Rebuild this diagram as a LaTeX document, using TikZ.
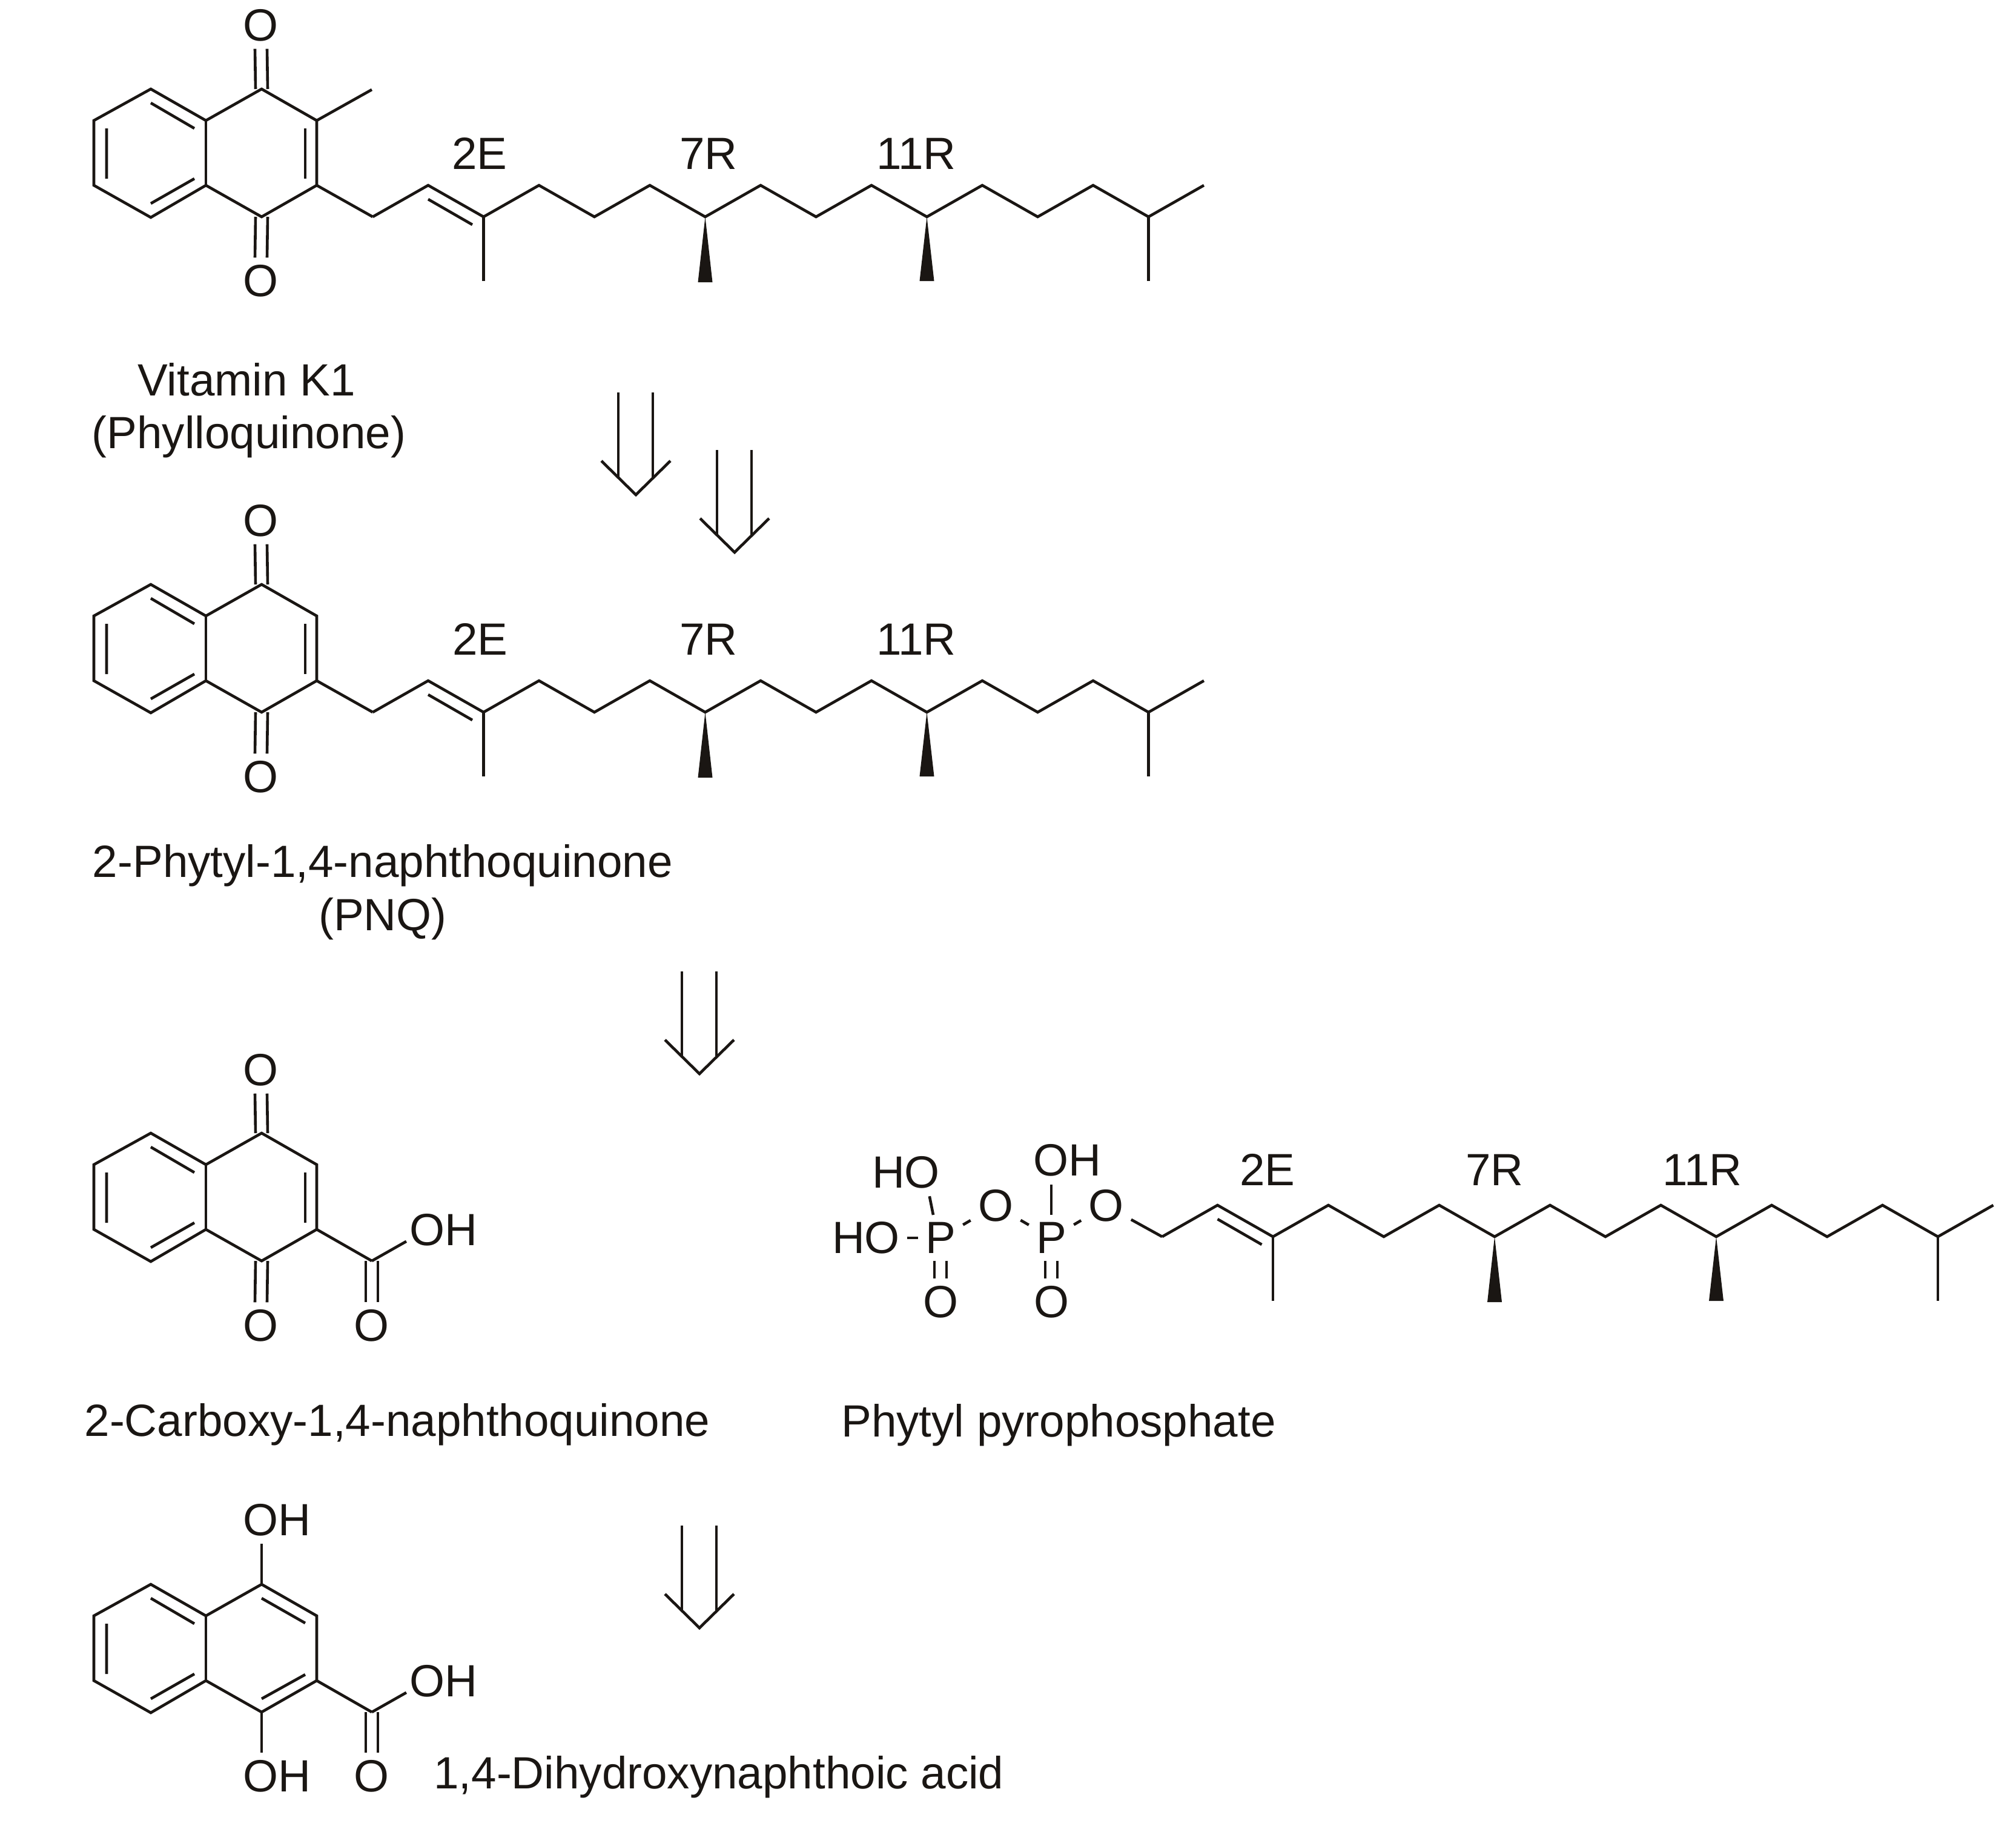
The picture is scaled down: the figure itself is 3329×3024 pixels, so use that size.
\documentclass[tikz,border=0pt]{standalone}
\usepackage{fontspec}
\setmainfont{Liberation Sans}
\usepackage{tikz}
\definecolor{ink}{HTML}{1A1613}
\tikzset{
	atom/.style={font=\fontsize{37.3}{44}\selectfont,inner sep=5pt},
	caption/.style={font=\fontsize{37.3}{44}\selectfont,inner sep=0pt,anchor=base,align=center},
}
\newcommand{\naphring}{
	\coordinate (c1) at (155,199); \coordinate (c2) at (249,147); \coordinate (c3) at (340,199);
	\coordinate (c4) at (432,147); \coordinate (c5) at (523,199); \coordinate (c6) at (523,306);
	\coordinate (c7) at (432,358); \coordinate (c8) at (340,306); \coordinate (c9) at (249,359);
	\coordinate (c10) at (155,306);
	\draw (c1) -- (c2) -- (c3) -- (c4) -- (c5) -- (c6) -- (c7) -- (c8) -- (c9) -- (c10) -- cycle;
	\draw (c3) -- (c8);
	\draw (176,212) -- (176,295) (249,170) -- (321,212) (249,336) -- (321,295);
}
\newcommand{\phytylchain}{
	\coordinate (ch1) at (615.5,358);
	\draw (ch1) -- (707,306) -- (798.5,358) -- (890,306) -- (981.5,358) -- (1073,306) -- (1164.5,358) -- (1256,306) -- (1347.5,358) -- (1439,306) -- (1530.5,358) -- (1622,306) -- (1713.5,358) -- (1805,306) -- (1896.5,358) -- (1988,306);
	\draw (707,329) -- (780,371);
	\draw (798.5,358) -- (798.5,464);
	\draw (1896.5,358) -- (1896.5,464);
	\fill (1164.5,358) -- (1152.5,466) -- (1176.5,466) -- cycle;
	\fill (1530.5,358) -- (1518.5,464) -- (1542.5,464) -- cycle;
}
\newcommand{\dblbond}[2]{
	\draw ([xshift=-5pt]#1) -- ([xshift=-5pt]#2) ([xshift=5pt]#1) -- ([xshift=5pt]#2);
}
\newcommand{\retroarrow}[2]{
	\draw ({#1-29},{#2-169}) -- ({#1-29},{#2-27}) ({#1+28},{#2-169}) -- ({#1+28},{#2-27});
	\draw ({#1-57},{#2-56}) -- (#1,#2) -- ({#1+57},{#2-56});
}

\begin{document}
\begin{tikzpicture}[x=0.5pt,y=-0.5pt,line width=2.3pt,ink]
	\useasboundingbox (0,0) rectangle (3329,3024);

	% vitamin K1
	\naphring
	\phytylchain
	\node[atom] (Otop) at (431,42) {O};
	\node[atom] (Obot) at (431,464) {O};
	\dblbond{c4}{Otop.south}
	\dblbond{c7}{Obot.north}
	\draw (504,212) -- (504,295);
	\draw (c5) -- (614,148);
	\draw (c6) -- (ch1);
	\node[caption] (labelEa) at (792,279) {2E};
	\node[caption] (labelRa) at (1170,279) {7R};
	\node[caption] (labelSa) at (1513,279) {11R};
	\node[caption] (nameK) at (407,653) {Vitamin K1};
	\node[caption] (namePhyllo) at (411,740) {(Phylloquinone)};

	\retroarrow{1050}{817}
	\retroarrow{1213}{912}

	% PNQ
	\begin{scope}[shift={(0,818)}]
		\naphring
		\phytylchain
		\node[atom] (Otop) at (431,42) {O};
		\node[atom] (Obot) at (431,465) {O};
		\dblbond{c4}{Otop.south}
		\dblbond{c7}{Obot.north}
		\draw (504,212) -- (504,295);
		\draw (c6) -- (ch1);
	\end{scope}
	\node[caption] (labelEb) at (793,1081) {2E};
	\node[caption] (labelRb) at (1170,1081) {7R};
	\node[caption] (labelSb) at (1513,1081) {11R};
	\node[caption] (namePNQ) at (632,1448) {2-Phytyl-1,4-naphthoquinone};
	\node[caption] (namePNQb) at (632,1536) {(PNQ)};

	\retroarrow{1155}{1773}

	% carboxy naphthoquinone
	\begin{scope}[shift={(0,1724)}]
		\naphring
		\node[atom] (Otop) at (431,43) {O};
		\node[atom] (Obot) at (431,465) {O};
		\node[atom] (Oacid) at (614,465) {O};
		\node[atom] (OHacid) at (732,307) {OH};
		\coordinate (cx) at (614,358);
		\coordinate (OHo) at (704,307);
		\dblbond{c4}{Otop.south}
		\dblbond{c7}{Obot.north}
		\dblbond{cx}{Oacid.north}
		\draw (504,212) -- (504,295);
		\draw (c6) -- (cx);
		\draw[shorten >=19pt] (cx) -- (OHo);
	\end{scope}
	\node[caption] (nameCarboxy) at (656,2371) {2-Carboxy-1,4-naphthoquinone};

	% phytyl pyrophosphate
	\begin{scope}[shift={(1303.5,1684)}]
		\phytylchain
	\end{scope}
	\node[atom] (HOa) at (1496,1936) {HO};
	\node[atom] (HOb) at (1430,2044) {HO};
	\node[atom] (Pa) at (1553,2044) {P};
	\node[atom] (Oa) at (1644,1991) {O};
	\node[atom] (Pb) at (1736,2044) {P};
	\node[atom] (OHb) at (1762,1916) {OH};
	\node[atom] (Ob) at (1826.5,1991) {O};
	\node[atom] (Oc) at (1553,2150) {O};
	\node[atom] (Od) at (1736,2150) {O};
	\coordinate (HOao) at (1527,1936);
	\coordinate (OHbo) at (1736,1916);
	\draw (HOb) -- (Pa);
	\draw[shorten <=20pt] (HOao) -- ([xshift=-6pt]Pa.north);
	\draw (Pa) -- (Oa);
	\draw (Oa) -- (Pb);
	\draw[shorten <=20pt] (OHbo) -- (Pb.north);
	\draw (Pb) -- (Ob);
	\draw (Ob) -- (ch1);
	\dblbond{Pa.south}{Oc.north}
	\dblbond{Pb.south}{Od.north}
	\node[caption] (labelEc) at (2093,1957) {2E};
	\node[caption] (labelRc) at (2468,1957) {7R};
	\node[caption] (labelSc) at (2811,1957) {11R};
	\node[caption] (namePP) at (1748,2372) {Phytyl pyrophosphate};

	\retroarrow{1155}{2688}

	% dihydroxynaphthoic acid
	\begin{scope}[shift={(0,2469)}]
		\naphring
		\node[atom] (OHtop) at (457,41) {OH};
		\node[atom] (OHbot) at (457,464) {OH};
		\node[atom] (Oacid) at (614,464) {O};
		\node[atom] (OHacid) at (732,307) {OH};
		\coordinate (cx) at (614,358);
		\coordinate (OHo) at (704,307);
		\draw (c4) -- (c4 |- OHtop.south);
		\draw (c7) -- (c7 |- OHbot.north);
		\dblbond{cx}{Oacid.north}
		\draw (432,170) -- (504,211) (432,336) -- (504,296);
		\draw (c6) -- (cx);
		\draw[shorten >=19pt] (cx) -- (OHo);
	\end{scope}
	\node[caption] (nameDHNA) at (1187,2953) {1,4-Dihydroxynaphthoic acid};
\end{tikzpicture}
\end{document}
